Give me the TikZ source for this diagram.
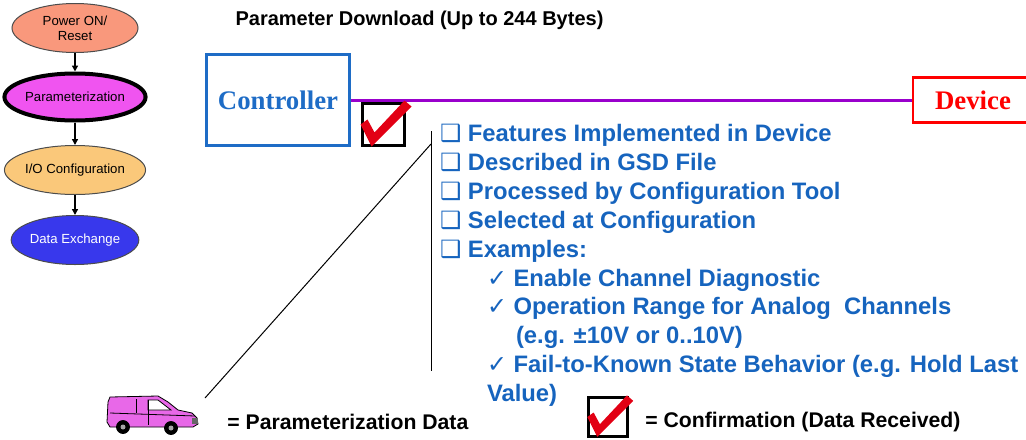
\documentclass[tikz,border=0pt]{standalone}
\usepackage{fontspec}
\setmainfont{Liberation Sans}
\newfontfamily\stationfont{Liberation Serif}
\newfontfamily\symfont{DejaVu Sans}
\usetikzlibrary{arrows.meta,positioning,shapes.geometric}

\definecolor{poweron}{RGB}{249,152,124}
\definecolor{paramfill}{RGB}{240,84,240}
\definecolor{iofill}{RGB}{250,200,122}
\definecolor{datafill}{RGB}{56,56,236}
\definecolor{ctrlblue}{RGB}{30,108,198}
\definecolor{listblue}{RGB}{22,100,190}
\definecolor{busline}{RGB}{153,0,204}
\definecolor{tickred}{RGB}{226,0,20}
\definecolor{vanpink}{RGB}{232,104,232}

\newcommand{\sqbul}{{\symfont\char"2751}}
\newcommand{\chk}{{\symfont\char"2713}}

\begin{document}
\begin{tikzpicture}[
  x=0.5pt, y=-0.5pt,
  state/.style={ellipse, draw=black!70, line width=0.5pt, minimum width=63pt, minimum height=24.5pt,
    inner sep=0pt, align=center, font=\fontsize{6.6}{7.6}\selectfont},
  flow/.style={-{Triangle[length=3pt,width=3pt]}, line width=0.7pt},
  station/.style={draw, line width=1.4pt, inner sep=0pt, font=\stationfont\bfseries\fontsize{13.4}{15}\selectfont},
  tickbox/.style={draw, line width=1.4pt, minimum size=21pt, inner sep=0pt},
  item/.style={text=listblue, font=\fontsize{11.9}{13}\selectfont\bfseries, inner sep=0pt, outer sep=0pt,
    text height=11.5pt, text depth=2.95pt, anchor=north west},
  legend/.style={font=\fontsize{10.6}{12}\selectfont\bfseries, inner sep=0pt, anchor=west},
  redtick/.pic={\fill[tickred] (-23,0) -- (-16,-5) -- (-9,8) -- (21,-24) -- (28,-18) -- (-12,22) -- cycle;}
]
\useasboundingbox (0,0) rectangle (1026,439);

% start-up sequence
\node[state, fill=poweron] (power) at (75,28) {Power ON/\\Reset};
\node[state, fill=paramfill, draw=black, line width=2pt, minimum width=64pt, minimum height=23.5pt] (param) at (75,97) {Parameterization};
\node[state, fill=iofill] (ioconf) at (75,170) {I/O Configuration};
\node[state, fill=datafill, text=white] (dataex) at (75,240) {Data Exchange};
\draw[flow] (power) -- (param);
\draw[flow] (param) -- (ioconf);
\draw[flow] (ioconf) -- (dataex);

\node[font=\fontsize{10}{12}\selectfont\bfseries, inner sep=0pt] (title) at (419.5,20) {Parameter Download (Up to 244 Bytes)};

% controller and device on the bus
\node[station, draw=ctrlblue, text=ctrlblue, minimum width=71.5pt, minimum height=45.5pt] (ctrl) at (278,100) {Controller};
\node[station, draw=red, text=red, line width=1.2pt, minimum width=60pt, minimum height=22.5pt] (dev) at (973,100) {Device};
\draw[busline, line width=1.5pt] (ctrl.east) -- (dev.west);

\node[tickbox] (ack) at (383.5,124.5) {};
\pic at (ack.center) {redtick};

% what goes into the parameter set
\coordinate (bartop) at (431,131);
\coordinate (barbot) at (431,371);
\coordinate (barjoin) at (431,144);
\draw[line width=0.5pt] (bartop) -- (barbot);

\node[item] (feat) at (440,118.5) {\sqbul\ Features Implemented in Device};
\node[item] (gsd) at (feat.south west) {\sqbul\ Described in GSD File};
\node[item] (tool) at (gsd.south west) {\sqbul\ Processed by Configuration Tool};
\node[item] (sel) at (tool.south west) {\sqbul\ Selected at Configuration};
\node[item] (examples) at (sel.south west) {\sqbul\ Examples:};
\node[item] (diag) at ([xshift=23.5pt]examples.south west) {\chk\ Enable Channel Diagnostic};
\node[item] (range) at (diag.south west) {\chk\ Operation Range for Analog\ \ Channels};
\node[item] (rangeeg) at ([xshift=14.5pt]range.south west) {(e.g. ±10V or 0..10V)};
\node[item] (fail) at ([xshift=-14.5pt]rangeeg.south west) {\chk\ Fail-to-Known State Behavior (e.g. Hold Last};
\node[item] (failv) at (fail.south west) {Value)};

% legend: van
\begin{scope}[line width=0.4pt]
  \filldraw[fill=vanpink, draw=black] (108,402) -- (110,397) -- (158,396) -- (168,402) -- (178,410)
    -- (192,413) -- (197,418) -- (198,424) -- (193,427) -- (110,427) -- (107,422) -- cycle;
  \filldraw[fill=white, draw=black] (148,400) -- (158,400) -- (171,410) -- (148,410) -- cycle;
  \draw (148,400) -- (148,425);
  \draw (110,413) -- (195,416);
  \draw (136,399) -- (136,413);
  \fill[black!60] (192,418) rectangle (198,424);
  \filldraw[fill=black] (123,427) circle (6.5);
  \filldraw[fill=black] (171,428) circle (6.5);
  \fill[black!35] (123,427) circle (2.5);
  \fill[black!35] (171,428) circle (2.5);
\end{scope}
\coordinate (vanend) at (205,398);
\draw[line width=0.5pt] (vanend) -- (barjoin);
\node[legend] (vanlabel) at (227,422) {= Parameterization Data};

% legend: confirmation
\node[tickbox, minimum size=19.5pt] (ackkey) at (608,417) {};
\pic[scale=0.9] at (ackkey.center) {redtick};
\node[legend] (acklabel) at (645,422) {= Confirmation (Data Received)};
\end{tikzpicture}
\end{document}
